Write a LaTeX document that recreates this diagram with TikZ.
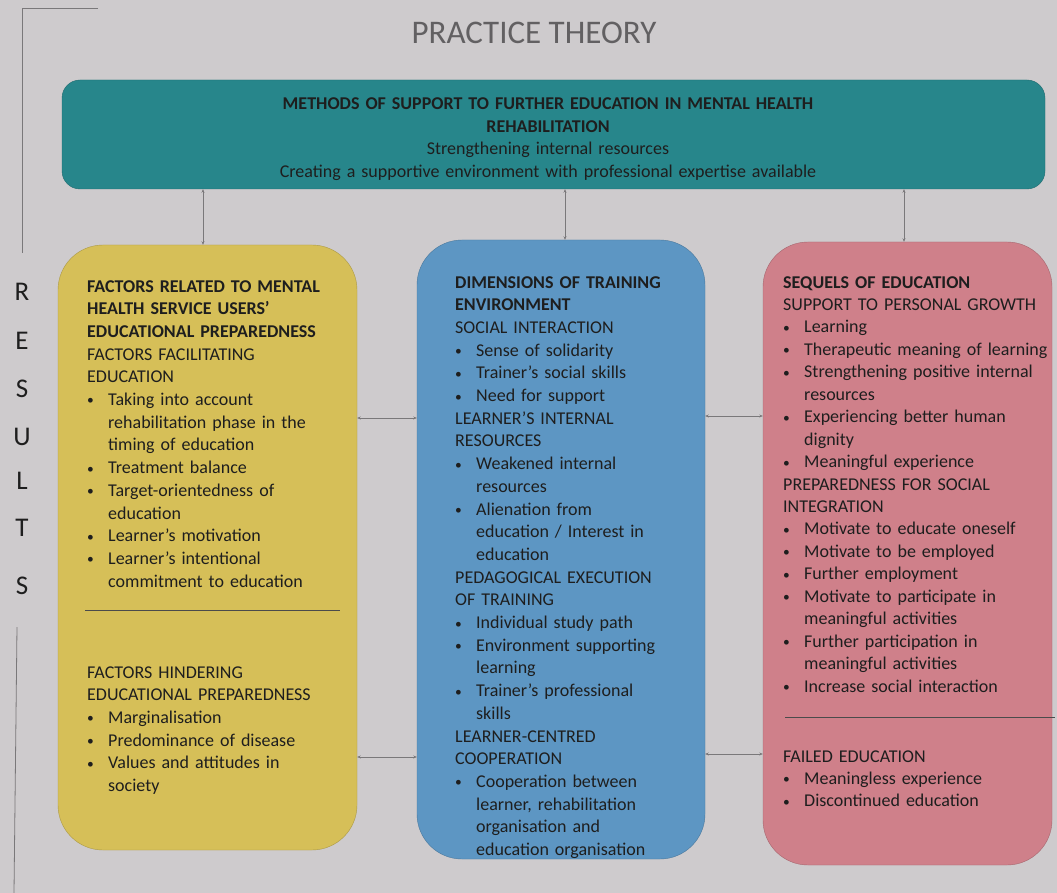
\documentclass[tikz,border=0pt]{standalone}
\usepackage{fontspec}
\setmainfont{Carlito}
\usetikzlibrary{arrows.meta}
\definecolor{bgc}{HTML}{CECBCD}
\definecolor{tealc}{HTML}{27868B}
\definecolor{yelc}{HTML}{D6BF58}
\definecolor{bluc}{HTML}{5D96C3}
\definecolor{pnkc}{HTML}{CF808A}
\definecolor{txtc}{HTML}{1E1E1E}
\definecolor{titc}{HTML}{626062}
\definecolor{linc}{HTML}{7A787A}
\newcommand\bu{\makebox[21pt][l]{\raisebox{0.5pt}{\scalebox{0.75}{\textbullet}}}}
\newcommand\ct{\hspace*{21pt}}
\begin{document}
\begin{tikzpicture}[x=1pt,y=-1pt,
  panel/.style={rounded corners=45pt, draw=#1!80!black, line width=0.4pt, fill=#1, inner sep=0pt},
  body/.style={anchor=base west, inner sep=0pt, align=left, text=txtc,
     font=\fontsize{18}{22.7}\selectfont},
  conn/.style={draw=linc, line width=0.7pt, {Stealth[length=3.5pt,width=3pt]}-{Stealth[length=3.5pt,width=3pt]}},
  sepline/.style={draw=txtc!80, line width=1pt},
  letter/.style={text=txtc, font=\fontsize{27}{27}\selectfont, inner sep=0pt}]
\fill[bgc] (0,0) rectangle (1057,893);
\useasboundingbox (0,0) rectangle (1057,893);
% bracket lines
\draw[linc, line width=0.8pt] (98,8) -- (22,8) -- (22,253);
\draw[linc, line width=0.8pt] (17,627) -- (14,893);
% title
\node[anchor=base, text=titc, font=\fontsize{33}{33}\selectfont, inner sep=0pt] (title) at (534,44) {PRACTICE THEORY};
% RESULTS
\node[letter] (r1) at (22,292) {R};
\node[letter] (r2) at (22,341) {E};
\node[letter] (r3) at (22,389) {S};
\node[letter] (r4) at (22,437) {U};
\node[letter] (r5) at (22,481) {L};
\node[letter] (r6) at (22,528) {T};
\node[letter] (r7) at (22,586) {S};
% boxes
\node[panel=tealc, rounded corners=18pt, minimum width=983pt, minimum height=109pt] (top) at (553.5,134.5) {};
\node[panel=yelc, minimum width=299pt, minimum height=605pt] (yel) at (207.5,547.5) {};
\node[panel=bluc, minimum width=288pt, minimum height=619pt] (blu) at (561,549.5) {};
\node[panel=pnkc, minimum width=289pt, minimum height=623pt] (pnk) at (907.5,553.5) {};
% top text
\node[anchor=base, inner sep=0pt, text width=960pt, align=center, text=txtc, font=\fontsize{18}{22.4}\selectfont] (toptext) at (548,110)
 {\textbf{METHODS OF SUPPORT TO FURTHER EDUCATION IN MENTAL HEALTH}\\
  \textbf{REHABILITATION}\\
  Strengthening internal resources\\
  Creating a supportive environment with professional expertise available};
% connectors
\coordinate (h1) at (0,418);
\coordinate (h2) at (0,416);
\coordinate (h3) at (0,757);
\coordinate (h4) at (0,754);
\draw[conn] (top.south -| 203,0) -- (yel.north -| 203,0);
\draw[conn] (top.south -| 565,0) -- (blu.north -| 565,0);
\draw[conn] (top.south -| 904,0) -- (pnk.north -| 904,0);
\draw[conn] (yel.east |- h1) -- (blu.west |- h1);
\draw[conn] (blu.east |- h2) -- (pnk.west |- h2);
\draw[conn] (yel.east |- h3) -- (blu.west |- h3);
\draw[conn] (blu.east |- h4) -- (pnk.west |- h4);
% yellow text
\node[body, text width=265pt] (ytext1) at (87,292)
 {\textbf{FACTORS RELATED TO MENTAL}\\
  \textbf{HEALTH SERVICE USERS’}\\
  \textbf{EDUCATIONAL PREPAREDNESS}\\
  FACTORS FACILITATING\\
  EDUCATION\\
  \bu Taking into account\\
  \ct rehabilitation phase in the\\
  \ct timing of education\\
  \bu Treatment balance\\
  \bu Target-orientedness of\\
  \ct education\\
  \bu Learner’s motivation\\
  \bu Learner’s intentional\\
  \ct commitment to education};
\draw[sepline] (85,610) -- (340,610);
\node[body, text width=265pt] (ytext2) at (87,678)
 {FACTORS HINDERING\\
  EDUCATIONAL PREPAREDNESS\\
  \bu Marginalisation\\
  \bu Predominance of disease\\
  \bu Values and attitudes in\\
  \ct society};
% blue text
\node[body, text width=245pt] (btext) at (455,288)
 {\textbf{DIMENSIONS OF TRAINING}\\
  \textbf{ENVIRONMENT}\\
  SOCIAL INTERACTION\\
  \bu Sense of solidarity\\
  \bu Trainer’s social skills\\
  \bu Need for support\\
  LEARNER’S INTERNAL\\
  RESOURCES\\
  \bu Weakened internal\\
  \ct resources\\
  \bu Alienation from\\
  \ct education / Interest in\\
  \ct education\\
  PEDAGOGICAL EXECUTION\\
  OF TRAINING\\
  \bu Individual study path\\
  \bu Environment supporting\\
  \ct learning\\
  \bu Trainer’s professional\\
  \ct skills\\
  LEARNER-CENTRED\\
  COOPERATION\\
  \bu Cooperation between\\
  \ct learner, rehabilitation\\
  \ct organisation and\\
  \ct education organisation};
% pink text
\node[body, text width=275pt, font=\fontsize{18}{22.45}\selectfont] (ptext1) at (783,288)
 {\textbf{SEQUELS OF EDUCATION}\\
  SUPPORT TO PERSONAL GROWTH\\
  \bu Learning\\
  \bu Therapeutic meaning of learning\\
  \bu Strengthening positive internal\\
  \ct resources\\
  \bu Experiencing better human\\
  \ct dignity\\
  \bu Meaningful experience\\
  PREPAREDNESS FOR SOCIAL\\
  INTEGRATION\\
  \bu Motivate to educate oneself\\
  \bu Motivate to be employed\\
  \bu Further employment\\
  \bu Motivate to participate in\\
  \ct meaningful activities\\
  \bu Further participation in\\
  \ct meaningful activities\\
  \bu Increase social interaction};
\draw[sepline] (785,717) -- (1055,717);
\node[body, text width=275pt, font=\fontsize{18}{22.45}\selectfont] (ptext2) at (783,762)
 {FAILED EDUCATION\\
  \bu Meaningless experience\\
  \bu Discontinued education};
\end{tikzpicture}
\end{document}
